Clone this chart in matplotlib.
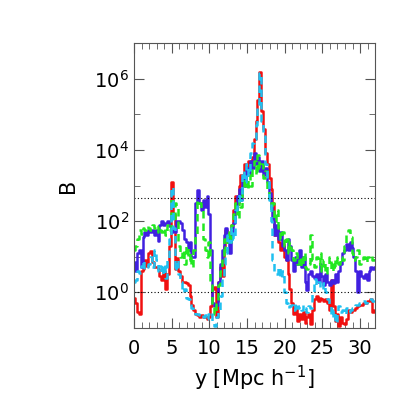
import numpy as np
import matplotlib
matplotlib.use("Agg")
import matplotlib.pyplot as plt
from matplotlib.ticker import FixedLocator, MultipleLocator, NullFormatter

# position along the line of sight, 0.25 Mpc/h steps
y_pos = np.arange(0, 32.01, 0.25)

# log10(B) for each run
red_log = [
    -0.15, -0.3, -0.55, -0.6, 0.6, 0.65, 0.9, 0.75,
    1.1, 1.15, 0.85, 0.7, 0.7, 0.65, 0.45, 0.35,
    0.6, 0.1, 0.5, 1.3, 3.1, 2.2, 0.65, 0.95,
    0.6, 0.45, 0.3, 0.3, 0.25, 0.2, -0.1, -0.35,
    -0.5, -0.6, -0.65, -0.7, -0.65, -0.7, -0.7, -0.75,
    -0.7, -0.4, 0.1, 0.15, -0.7, 0.3, 0.7, 0.45,
    1.3, 1.75, 1.55, 1.4, 1.9, 2.3, 2.7, 2.5,
    3.0, 3.3, 3.2, 3.6, 3.4, 3.7, 3.5, 3.8,
    4.3, 4.8, 5.4, 6.2, 5.1, 4.6, 3.9, 3.6,
    3.2, 2.9, 2.5, 1.6, 1.8, 1.4, 1.2, 1.35,
    1.0, 0.9, 0.5, 0.1, -0.3, -0.6, -0.45, -0.8,
    -0.6, -0.75, -0.55, -0.85, -0.7, -0.6, -0.9, -0.5,
    -0.2, -0.1, -0.25, -0.15, -0.2, -0.25, -0.2, -0.3,
    -0.5, 0.35, -0.4, -0.8, -0.6, -0.95, -0.7, -0.85,
    -0.9, -0.75, -0.5, -0.55, -0.5, -0.5, -0.45, -0.4,
    -0.35, -0.35, -0.3, -0.3, -0.25, -0.25, -0.2, -0.55, -0.5,
]
blue_log = [
    0.85, 0.6, 1.1, 1.2, 0.7, 1.55, 1.7, 1.6,
    1.75, 1.7, 1.75, 1.6, 1.75, 1.45, 1.9, 2.0,
    1.9, 1.95, 2.0, 1.85, 1.7, 1.75, 1.7, 2.0,
    2.0, 1.95, 1.75, 1.5, 1.4, 1.2, 1.4, 1.0,
    1.0, 2.5, 2.86, 2.5, 2.3, 2.6, 2.4, 2.7,
    2.2, 1.2, -0.3, -0.4, -0.35, 0.3, 0.8, 1.2,
    1.6, 1.8, 1.5, 1.1, 1.6, 1.95, 2.3, 2.7,
    2.9, 2.6, 3.2, 3.0, 3.5, 3.3, 3.7, 3.5,
    3.9, 3.6, 3.8, 3.4, 3.7, 3.3, 3.5, 3.1,
    2.8, 2.4, 2.1, 1.6, 1.9, 1.5, 1.7, 1.3,
    1.2, 0.9, 1.5, 1.3, 0.9, 0.6, 1.0, 0.8,
    1.2, 0.7, 1.0, 0.3, 0.05, 0.5, 0.6, 0.45,
    0.4, 0.5, 0.3, 0.8, 0.45, 0.2, 0.5, 0.3,
    0.2, 0.35, 0.25, 0.5, 0.3, 0.6, 0.8, 1.1,
    1.2, 1.35, 1.2, 1.4, 1.25, 1.0, 0.6, 0.0,
    0.6, 0.45, 0.4, 0.5, 0.35, 0.6, 0.7, 0.65, 0.7,
]
green_log = [
    1.2, 1.3, 1.5, 1.75, 1.65, 1.8, 1.75, 1.85,
    1.8, 1.75, 1.9, 1.8, 1.7, 1.85, 1.75, 1.7,
    1.8, 1.6, 1.9, 1.75, 2.65, 2.0, 2.5, 2.4,
    1.3, 1.0, 1.2, 0.8, 1.3, 0.9, 1.1, 0.7,
    1.2, 1.6, 2.6, 2.5, 2.3, 1.5, 1.2, 1.0,
    1.4, 0.3, -0.4, -0.6, -0.3, 0.2, 0.6, 1.0,
    1.5, 1.2, 1.7, 1.4, 1.9, 2.2, 2.5, 2.1,
    2.6, 2.4, 2.9, 3.2, 2.9, 3.3, 3.0, 3.5,
    3.7, 3.3, 3.85, 3.5, 3.6, 3.2, 3.4, 2.9,
    2.6, 2.3, 2.5, 2.0, 2.3, 1.8, 1.5, 1.7,
    1.3, 1.5, 1.1, 1.4, 1.2, 0.9, 1.1, 0.8,
    1.0, 0.75, 1.1, 0.7, 0.65, 0.8, 1.6, 0.9,
    0.7, 1.0, 0.8, 1.1, 0.6, 0.9, 0.5, 0.8,
    1.0, 0.6, 0.9, 0.7, 1.0, 0.8, 1.0, 0.9,
    1.3, 1.6, 1.75, 1.55, 1.1, 0.9, 1.0, 1.2,
    0.8, 0.9, 1.0, 0.85, 1.0, 1.0, 1.05, 0.9, 1.0,
]
cyan_log = [
    0.3, 0.35, 0.6, 0.55, 0.75, 0.9, 0.65, 0.7,
    0.8, 1.0, 0.7, 1.2, 0.9, 0.6, 0.75, 0.5,
    0.8, 0.4, 0.9, 1.5, 2.95, 1.8, 0.6, 0.9,
    0.5, 0.3, 0.0, 0.1, -0.15, -0.2, -0.3, -0.45,
    -0.55, -0.6, -0.62, -0.65, -0.6, -0.7, -0.65, -0.75,
    -0.6, -0.55, -0.85, -0.95, -0.7, -0.5, -0.1, 0.4,
    0.8, 1.1, 1.6, 1.4, 1.8, 1.5, 2.3, 2.5,
    2.8, 2.6, 3.4, 3.1, 3.6, 3.3, 3.9, 4.2,
    4.3, 4.7, 5.3, 6.15, 4.8, 4.4, 3.6, 3.2,
    2.6, 2.0, 0.9, 0.6, 0.5, 0.7, 0.4, 0.6,
    0.0, -0.3, -0.45, -0.4, -0.35, -0.5, -0.3, -0.45,
    -0.4, -0.5, -0.35, -0.45, -0.55, -0.4, -0.45, 0.0,
    0.36, 0.2, 0.3, 0.15, 0.1, 0.25, 0.0, -0.2,
    -0.4, -0.7, -0.5, -0.85, -0.6, -0.4, -0.55, -0.5,
    -0.6, -0.45, -0.55, -0.5, -0.45, -0.4, -0.35, -0.35,
    -0.3, -0.3, -0.25, -0.3, -0.25, -0.2, -0.2, -0.25, -0.3,
]
# reference levels (dotted lines)
ref_levels = [1.0, 450.0]

fig = plt.figure(figsize=(4.15, 4.15), dpi=100)
ax = fig.add_axes([0.323, 0.21, 0.581, 0.686])

# draw the runs, stepped like the original histogram-style output
ax.plot(y_pos, 10 ** np.array(red_log), color="#f01010", lw=1.8, drawstyle="steps-mid")
ax.plot(y_pos, 10 ** np.array(blue_log), color="#4020e0", lw=1.8, drawstyle="steps-mid")
ax.plot(y_pos, 10 ** np.array(green_log), color="#22e822", lw=1.8, ls=(0, (3, 2)),
        drawstyle="steps-mid")
ax.plot(y_pos, 10 ** np.array(cyan_log), color="#20c0f0", lw=1.8, ls=(0, (3, 2)),
        drawstyle="steps-mid")

for lev in ref_levels:
    ax.axhline(lev, color="black", lw=0.8, ls=(0, (1, 2)))

ax.set_yscale("log")
ax.set_xlim(0, 32)
ax.set_ylim(0.1, 1e7)

ax.xaxis.set_major_locator(MultipleLocator(5))
ax.xaxis.set_minor_locator(MultipleLocator(1))
ax.yaxis.set_major_locator(FixedLocator([1e0, 1e2, 1e4, 1e6]))
ax.yaxis.set_minor_locator(FixedLocator([1e1, 1e3, 1e5]))
ax.yaxis.set_minor_formatter(NullFormatter())

ax.tick_params(which="both", direction="in", top=True, right=True,
               labelsize=14, color="#555555")
ax.tick_params(which="major", length=7)
ax.tick_params(which="minor", length=4, width=0.6)
ax.tick_params(axis="x", pad=8)
for s in ax.spines.values():
    s.set_color("#555555")
    s.set_linewidth(0.8)

ax.set_xlabel(r"y [Mpc h$^{-1}$]", fontsize=15)
ax.set_ylabel("B", fontsize=15, labelpad=12)

fig.savefig("out.png", dpi=100)
